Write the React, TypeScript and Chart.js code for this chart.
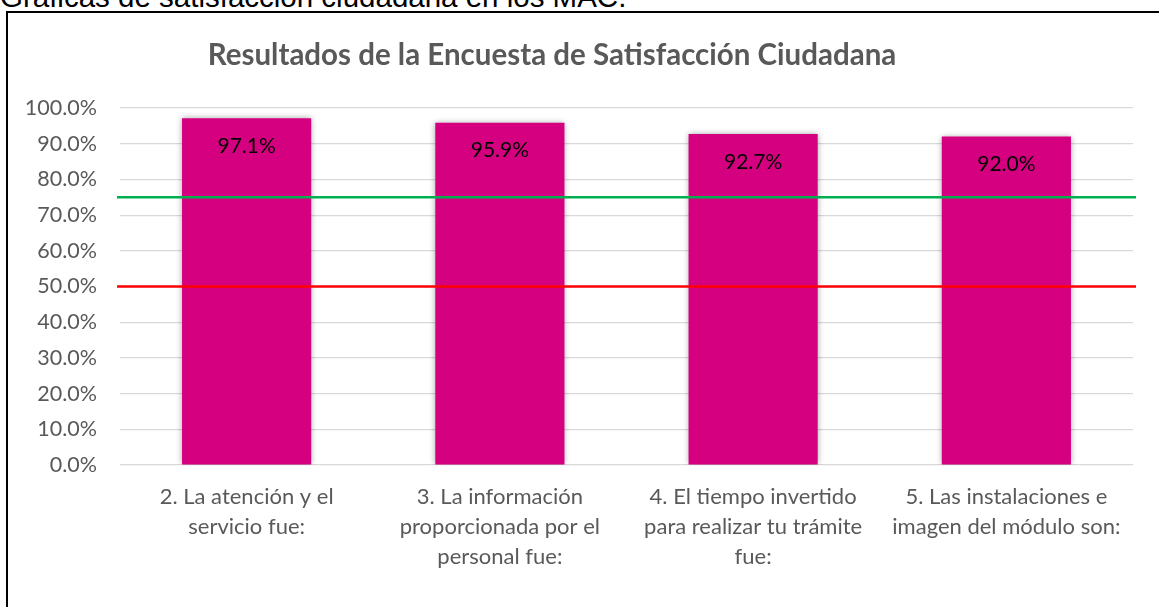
import React, { useEffect, useRef } from "react";
import { Chart, registerables } from "chart.js";

Chart.register(...registerables);

const HEADING = "Gráficas de satisfacción ciudadana en los MAC.";
const TITLE = "Resultados de la Encuesta de Satisfacción Ciudadana";

const CATEGORIES: string[][] = [
  ["2. La atención y el", "servicio fue:"],
  ["3. La información", "proporcionada por el", "personal fue:"],
  ["4. El tiempo invertido", "para realizar tu trámite", "fue:"],
  ["5. Las instalaciones e", "imagen del módulo son:"],
];
const SATISFACTION = [97.1, 95.9, 92.7, 92.0];
const REFERENCE_VALUES = [75, 50];
const REFERENCE_COLORS = ["#00B050", "#FF0000"];
const Y_MIN = 0;
const Y_MAX = 100;
const Y_STEP = 10;

const BAR_COLOR = "#D5007F";
const TEXT_GRAY = "#595959";
const FONT = "Lato, 'Open Sans', sans-serif";

const titlePlugin = {
  id: "excelTitle",
  afterDraw(chart: any) {
    const ctx = chart.ctx;
    ctx.save();
    ctx.font = `bold 29.5px ${FONT}`;
    ctx.fillStyle = TEXT_GRAY;
    ctx.textAlign = "center";
    ctx.textBaseline = "alphabetic";
    ctx.fillText(TITLE, 552, 65);
    ctx.restore();
  },
};

const shadowPlugin = {
  id: "barShadow",
  beforeDatasetDraw(chart: any, args: any) {
    if (args.meta.type !== "bar") return;
    const ctx = chart.ctx;
    ctx.save();
    ctx.shadowColor = "rgba(0,0,0,0.35)";
    ctx.shadowBlur = 6;
    ctx.shadowOffsetX = 0;
    ctx.shadowOffsetY = 0;
  },
  afterDatasetDraw(chart: any, args: any) {
    if (args.meta.type !== "bar") return;
    chart.ctx.restore();
  },
};

const referenceLinePlugin = {
  id: "referenceLines",
  afterDatasetsDraw(chart: any) {
    const ctx = chart.ctx;
    const { left, right } = chart.chartArea;
    const y = chart.scales.y;
    ctx.save();
    ctx.lineWidth = 2.5;
    REFERENCE_VALUES.forEach((v, i) => {
      const py = y.getPixelForValue(v);
      ctx.strokeStyle = REFERENCE_COLORS[i];
      ctx.beginPath();
      ctx.moveTo(left - 3, py);
      ctx.lineTo(right + 3, py);
      ctx.stroke();
    });
    ctx.restore();
  },
};

const valueLabelPlugin = {
  id: "valueLabels",
  afterDatasetsDraw(chart: any) {
    const ctx = chart.ctx;
    chart.data.datasets.forEach((ds: any, di: number) => {
      const meta = chart.getDatasetMeta(di);
      if (meta.type !== "bar") return;
      ctx.save();
      ctx.font = `21px ${FONT}`;
      ctx.fillStyle = "#000000";
      ctx.textAlign = "center";
      ctx.textBaseline = "middle";
      meta.data.forEach((bar: any, i: number) => {
        const v = ds.data[i] as number;
        ctx.fillText(v.toFixed(1) + "%", bar.x, bar.y + 28);
      });
      ctx.restore();
    });
  },
};

export default function App() {
  const canvasRef = useRef<HTMLCanvasElement | null>(null);

  useEffect(() => {
    if (!canvasRef.current) return;
    const chart = new Chart(canvasRef.current, {
      type: "bar",
      data: {
        labels: CATEGORIES,
        datasets: [
          {
            label: "Satisfacción",
            data: SATISFACTION,
            backgroundColor: BAR_COLOR,
            borderWidth: 0,
            barPercentage: 0.51,
            categoryPercentage: 1,
          },
        ],
      },
      options: {
        responsive: false,
        animation: false,
        events: [],
        layout: { padding: { left: 10, top: 108, right: 26, bottom: 12 } },
        plugins: {
          legend: { display: false },
          title: { display: false },
          tooltip: { enabled: false },
        },
        scales: {
          x: {
            type: "category",
            offset: true,
            grid: { display: false, drawTicks: false },
            border: { display: false },
            ticks: {
              color: TEXT_GRAY,
              font: { family: FONT, size: 22, lineHeight: "30px" as any },
              padding: 17,
              autoSkip: false,
              maxRotation: 0,
              minRotation: 0,
            },
            afterFit(scale: any) {
              scale.height = 130;
            },
          },
          y: {
            type: "linear",
            min: Y_MIN,
            max: Y_MAX,
            grid: { color: "#D9D9D9", lineWidth: 1.2, drawTicks: false },
            border: { display: false },
            ticks: {
              stepSize: Y_STEP,
              color: TEXT_GRAY,
              font: { family: FONT, size: 21.5 },
              padding: 23,
              callback: (v: any) => Number(v).toFixed(1) + "%",
            },
            afterFit(scale: any) {
              scale.width = 110;
            },
          },
        },
      },
      plugins: [shadowPlugin, referenceLinePlugin, valueLabelPlugin, titlePlugin],
    });
    return () => chart.destroy();
  }, []);

  return (
    <div
      style={{
        position: "fixed",
        left: 0,
        top: 0,
        width: 1159,
        height: 607,
        overflow: "hidden",
        background: "#ffffff",
      }}
    >
      <div
        style={{
          position: "absolute",
          left: 0,
          top: -18,
          fontFamily: "'Liberation Sans', Arial, sans-serif",
          fontSize: 29.5,
          lineHeight: "29.5px",
          color: "#000",
          whiteSpace: "nowrap",
        }}
      >
        {HEADING}
      </div>
      <div
        style={{
          position: "absolute",
          left: 6,
          top: 11,
          width: 1300,
          height: 800,
          border: "2px solid #000",
          boxSizing: "border-box",
        }}
      />
      <canvas
        ref={canvasRef}
        width={1159}
        height={607}
        style={{ position: "absolute", left: 0, top: 0, width: 1159, height: 607 }}
      />
    </div>
  );
}
